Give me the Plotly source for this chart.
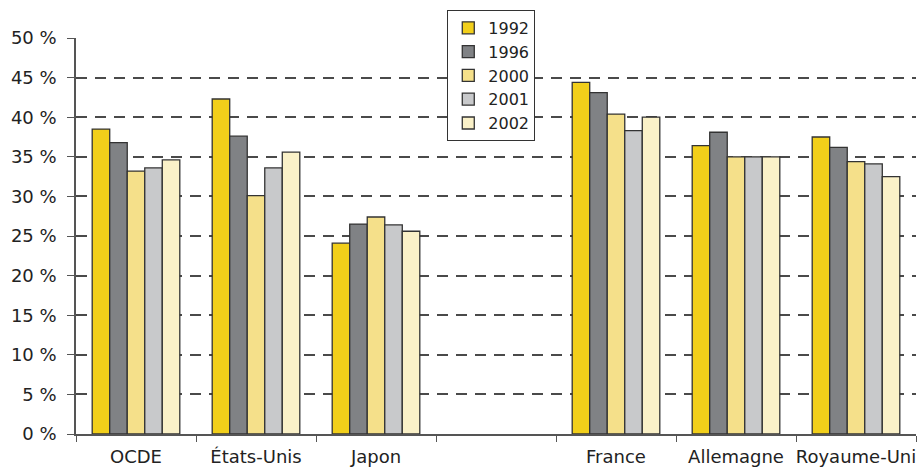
import plotly.graph_objects as go

# Country groups (the blank slot separates the OECD aggregates from Europe)
categories = ["OCDE", "États-Unis", "Japon", " ", "France", "Allemagne", "Royaume-Uni"]
years = ["1992", "1996", "2000", "2001", "2002"]

# Share (%) per year, one list per year, aligned with categories
v1992 = [38.5, 42.3, 24.1, None, 44.4, 36.4, 37.5]
v1996 = [36.8, 37.6, 26.5, None, 43.1, 38.1, 36.2]
v2000 = [33.2, 30.1, 27.4, None, 40.4, 35.0, 34.4]
v2001 = [33.6, 33.6, 26.4, None, 38.3, 35.0, 34.1]
v2002 = [34.6, 35.6, 25.6, None, 40.0, 35.0, 32.5]

series = [v1992, v1996, v2000, v2001, v2002]
colors = ["#F2CF1A", "#808285", "#F5E08A", "#C8C9CB", "#FAF1C8"]

fig = go.Figure()
for name, vals, col in zip(years, series, colors):
    fig.add_trace(go.Bar(
        x=categories, y=vals, name=name,
        marker=dict(color=col, line=dict(color="#333333", width=1.3)),
    ))

font_family = "'DejaVu Sans', Verdana, sans-serif"

fig.update_layout(
    width=922, height=468,
    margin=dict(l=76, r=6, t=38, b=34),
    paper_bgcolor="white", plot_bgcolor="white",
    barmode="group", bargap=0.27, bargroupgap=0,
    font=dict(family=font_family, size=18, color="#222222"),
    showlegend=True,
    legend=dict(
        x=0.442, y=1.071, xanchor="left", yanchor="top",
        bgcolor="white", bordercolor="#333333", borderwidth=1,
        font=dict(size=16, color="#222222"),
        itemwidth=30, tracegroupgap=0,
    ),
    xaxis=dict(
        type="category", categoryorder="array", categoryarray=categories,
        tickson="boundaries", ticks="outside", ticklen=6, tickcolor="#555555",
        showline=True, linecolor="#555555", linewidth=1.5,
        showgrid=False, range=[-0.5, 6.5], automargin=False,
        tickangle=0, ticklabelstandoff=6,
        tickfont=dict(size=18, color="#222222"),
    ),
    yaxis=dict(
        range=[0, 50], dtick=5, tick0=0,
        ticksuffix=" %", ticks="outside", ticklen=7, tickcolor="#555555",
        showline=True, linecolor="#555555", linewidth=1.5,
        showgrid=True, gridcolor="#4a4a4a", gridwidth=1.5, griddash="11px,8px",
        zeroline=False, automargin=False, ticklabelstandoff=7,
        tickfont=dict(size=18, color="#222222"),
    ),
)

fig.write_html("out.html")
